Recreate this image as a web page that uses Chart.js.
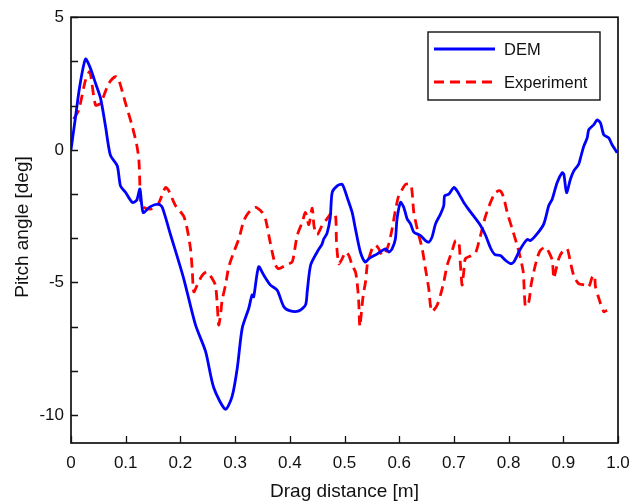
<!DOCTYPE html>
<html>
<head>
<meta charset="utf-8">
<script src="https://cdn.jsdelivr.net/npm/chart.js@4.4.1/dist/chart.umd.min.js"></script>
<style>
  html, body { margin: 0; padding: 0; background: #fff; }
  #wrap { width: 641px; height: 503px; }
</style>
</head>
<body>
<div id="wrap"><canvas id="pitchChart" width="641" height="503"></canvas></div>
<script>
// data
const demX = [0, 0.008, 0.016, 0.0265, 0.035, 0.045, 0.054, 0.063, 0.072, 0.0845, 0.0905, 0.0996, 0.112, 0.120, 0.126, 0.132, 0.145, 0.1605, 0.167, 0.182, 0.206, 0.2276, 0.246, 0.261, 0.2824, 0.2947, 0.304, 0.313, 0.325, 0.331, 0.334, 0.343, 0.3525, 0.3647, 0.377, 0.389, 0.401, 0.4165, 0.4287, 0.4318, 0.438, 0.45, 0.459, 0.462, 0.468, 0.474, 0.4775, 0.4866, 0.4958, 0.505, 0.514, 0.52, 0.529, 0.538, 0.5445, 0.56, 0.575, 0.581, 0.587, 0.593, 0.596, 0.6024, 0.6084, 0.6146, 0.6207, 0.6267, 0.639, 0.648, 0.654, 0.66, 0.6664, 0.6755, 0.6815, 0.683, 0.6907, 0.6998, 0.706, 0.718, 0.730, 0.7486, 0.758, 0.767, 0.775, 0.785, 0.794, 0.8035, 0.8095, 0.8218, 0.834, 0.84, 0.852, 0.8644, 0.8735, 0.8797, 0.8888, 0.898, 0.901, 0.906, 0.913, 0.919, 0.928, 0.9315, 0.9375, 0.9437, 0.9466, 0.9558, 0.962, 0.968, 0.974, 0.983, 0.989, 0.9985];
const demY = [0, 1.2, 2.4, 3.42, 3.1, 2.5, 1.95, 0.9, -0.2, -0.6, -1.36, -1.6, -1.98, -1.9, -1.48, -2.36, -2.14, -2.05, -2.17, -3.2, -4.85, -6.6, -7.6, -8.97, -9.78, -9.28, -8.22, -6.72, -5.97, -5.47, -5.54, -4.41, -4.73, -5.1, -5.29, -5.91, -6.07, -6.07, -5.85, -5.35, -4.35, -3.85, -3.55, -3.36, -3.15, -2.54, -1.61, -1.36, -1.3, -1.8, -2.36, -2.98, -3.85, -4.23, -4.1, -3.92, -3.73, -3.85, -3.73, -3.36, -2.61, -1.98, -2.17, -2.61, -2.79, -3.1, -3.23, -3.42, -3.48, -3.29, -2.79, -2.42, -2.1, -1.73, -1.67, -1.42, -1.55, -1.98, -2.33, -2.85, -3.23, -3.7, -3.95, -3.98, -4.16, -4.29, -4.23, -3.73, -3.38, -3.42, -3.17, -2.79, -2.1, -1.86, -1.23, -0.86, -0.92, -1.61, -1.11, -0.8, -0.55, -0.3, 0.14, 0.45, 0.76, 0.95, 1.13, 1.01, 0.57, 0.45, 0.2, -0.11];

const expX = [0.005, 0.0143, 0.0265, 0.0344, 0.0448, 0.054, 0.069, 0.0814, 0.0874, 0.0996, 0.112, 0.12, 0.124, 0.1258, 0.127, 0.133, 0.1453, 0.1576, 0.1636, 0.1728, 0.179, 0.191, 0.206, 0.2124, 0.2185, 0.2215, 0.2245, 0.2307, 0.2399, 0.249, 0.258, 0.264, 0.267, 0.27, 0.2733, 0.2764, 0.2824, 0.2885, 0.2976, 0.3068, 0.316, 0.325, 0.337, 0.3495, 0.3556, 0.3617, 0.3678, 0.374, 0.38, 0.392, 0.404, 0.4073, 0.4135, 0.4227, 0.4287, 0.4348, 0.441, 0.4445, 0.45, 0.459, 0.468, 0.4775, 0.4836, 0.4854, 0.4896, 0.4958, 0.5018, 0.5079, 0.514, 0.52, 0.523, 0.526, 0.528, 0.5305, 0.5342, 0.5384, 0.5415, 0.5445, 0.5506, 0.5567, 0.5627, 0.569, 0.575, 0.581, 0.587, 0.593, 0.599, 0.6055, 0.6115, 0.6207, 0.6237, 0.6267, 0.633, 0.642, 0.648, 0.654, 0.657, 0.66, 0.6694, 0.6755, 0.6815, 0.6877, 0.697, 0.703, 0.709, 0.712, 0.715, 0.718, 0.721, 0.7303, 0.7395, 0.7455, 0.7517, 0.7578, 0.767, 0.776, 0.785, 0.791, 0.7975, 0.8066, 0.8157, 0.8218, 0.8267, 0.829, 0.831, 0.837, 0.841, 0.846, 0.852, 0.858, 0.8675, 0.8735, 0.8797, 0.8827, 0.8857, 0.8918, 0.898, 0.907, 0.913, 0.919, 0.928, 0.9406, 0.9466, 0.953, 0.957, 0.9588, 0.965, 0.974, 0.98];
const expY = [1.16, 1.51, 2.63, 2.94, 1.69, 1.76, 2.5, 2.76, 2.63, 1.76, 0.89, 0.2, -0.36, -1.23, -1.98, -2.17, -2.23, -2.1, -1.86, -1.42, -1.55, -2.1, -2.5, -2.98, -3.73, -4.48, -5.35, -5.1, -4.73, -4.6, -4.85, -5.1, -5.72, -6.6, -6.22, -5.66, -5.1, -4.41, -3.85, -3.36, -2.67, -2.36, -2.17, -2.36, -2.61, -3.23, -3.85, -4.35, -4.48, -4.35, -4.23, -3.98, -3.23, -2.73, -2.36, -2.82, -2.2, -2.9, -3.2, -2.85, -2.6, -2.36, -2.48, -3.5, -4.29, -4.1, -3.85, -3.98, -4.35, -4.6, -4.98, -5.72, -6.66, -6.22, -5.47, -4.98, -4.35, -4.1, -3.73, -3.6, -3.73, -3.98, -3.85, -3.54, -2.98, -2.29, -1.73, -1.49, -1.3, -1.3, -1.61, -2.36, -2.98, -3.73, -4.48, -5.23, -5.85, -6.1, -5.85, -5.47, -4.98, -4.35, -3.79, -3.42, -3.48, -4.35, -5.1, -4.6, -4.1, -4.0, -3.88, -3.48, -2.98, -2.5, -1.98, -1.61, -1.55, -1.8, -2.36, -2.98, -3.6, -4.1, -4.6, -5.47, -5.91, -5.72, -5.1, -4.6, -4.1, -3.79, -3.67, -3.85, -4.16, -4.85, -4.6, -4.1, -3.85, -3.73, -4.23, -4.73, -5.04, -5.1, -5.16, -4.79, -4.73, -5.16, -5.6, -6.1, -6.05];

const xTicks = [0, 0.1, 0.2, 0.3, 0.4, 0.5, 0.6, 0.7, 0.8, 0.9, 1.0];
const yTicks = [5, 10 / 3, 5 / 3, 0, -5 / 3, -10 / 3, -5, -20 / 3, -25 / 3, -10];
const yLabelled = [5, 0, -5, -10];

const FONT = '"Liberation Sans", Arial, sans-serif';

const toPoints = (xs, ys) => xs.map((x, i) => ({ x: x, y: ys[i] }));

// frame, inward ticks, axis titles and the inset legend
const framePlugin = {
    id: 'frame',
    afterDraw(chart) {
        const { ctx, chartArea: a, scales } = chart;
        const tick = 7;
        ctx.save();
        ctx.strokeStyle = '#111';
        ctx.lineWidth = 1.7;
        ctx.strokeRect(a.left, a.top, a.right - a.left, a.bottom - a.top);

        ctx.lineWidth = 1.3;
        ctx.beginPath();
        xTicks.forEach(v => {
            const px = Math.round(scales.x.getPixelForValue(v)) + 0.5;
            ctx.moveTo(px, a.bottom);
            ctx.lineTo(px, a.bottom - tick);
        });
        yTicks.forEach(v => {
            const py = Math.round(scales.y.getPixelForValue(v)) + 0.5;
            ctx.moveTo(a.left, py);
            ctx.lineTo(a.left + tick, py);
        });
        ctx.stroke();

        // axis titles
        ctx.fillStyle = '#111';
        ctx.textAlign = 'center';
        ctx.textBaseline = 'middle';
        ctx.font = '19px ' + FONT;
        ctx.fillText('Drag distance [m]', (a.left + a.right) / 2, 492);
        ctx.save();
        ctx.translate(23, 227);
        ctx.rotate(-Math.PI / 2);
        ctx.font = '19px ' + FONT;
        ctx.fillText('Pitch angle [deg]', 0, 0);
        ctx.restore();

        // legend
        const lx = 428, ly = 32, lw = 172, lh = 68;
        ctx.fillStyle = '#fff';
        ctx.fillRect(lx, ly, lw, lh);
        ctx.lineWidth = 1.4;
        ctx.strokeStyle = '#111';
        ctx.strokeRect(lx, ly, lw, lh);
        const items = chart.data.datasets;
        const rows = [49, 82];
        items.forEach((ds, i) => {
            ctx.beginPath();
            ctx.strokeStyle = ds.borderColor;
            ctx.lineWidth = ds.borderWidth;
            ctx.setLineDash(ds.borderDash || []);
            ctx.moveTo(434, rows[i]);
            ctx.lineTo(495, rows[i]);
            ctx.stroke();
            ctx.setLineDash([]);
            ctx.fillStyle = '#111';
            ctx.textAlign = 'left';
            ctx.font = '16.5px ' + FONT;
            ctx.fillText(ds.label, 504, rows[i] + 1);
        });
        ctx.restore();
    }
};

const ctx = document.getElementById('pitchChart').getContext('2d');

const pitchChart = new Chart(ctx, {
    type: 'line',
    data: {
        datasets: [{
            label: 'DEM',
            data: toPoints(demX, demY),
            borderColor: '#0000ff',
            borderWidth: 2.8,
            tension: 0.25,
            pointRadius: 0
        }, {
            label: 'Experiment',
            data: toPoints(expX, expY),
            borderColor: '#ff0000',
            borderWidth: 2.8,
            borderDash: [10, 6],
            tension: 0.25,
            pointRadius: 0
        }]
    },
    options: {
        responsive: false,
        animation: false,
        layout: { padding: { left: 0, right: 23, top: 14, bottom: 0 } },
        plugins: { legend: { display: false }, tooltip: { enabled: false } },
        scales: {
            x: {
                type: 'linear',
                min: 0,
                max: 1,
                grid: { display: false, drawTicks: false },
                border: { display: false },
                afterBuildTicks: s => { s.ticks = xTicks.map(v => ({ value: v })); },
                afterFit: s => { s.height = 60; },
                ticks: {
                    color: '#111',
                    font: { family: FONT, size: 17 },
                    padding: 10,
                    maxRotation: 0,
                    callback: v => (v === 0 ? '0' : v.toFixed(1))
                }
            },
            y: {
                min: -11.05,
                max: 5,
                grid: { display: false, drawTicks: false },
                border: { display: false },
                afterBuildTicks: s => { s.ticks = yTicks.map(v => ({ value: v })); },
                afterFit: s => { s.width = 71; },
                ticks: {
                    color: '#111',
                    font: { family: FONT, size: 17 },
                    padding: 7,
                    callback: v => (yLabelled.some(t => Math.abs(t - v) < 1e-6) ? String(Math.round(v)) : '')
                }
            }
        }
    },
    plugins: [framePlugin]
});
</script>
</body>
</html>
